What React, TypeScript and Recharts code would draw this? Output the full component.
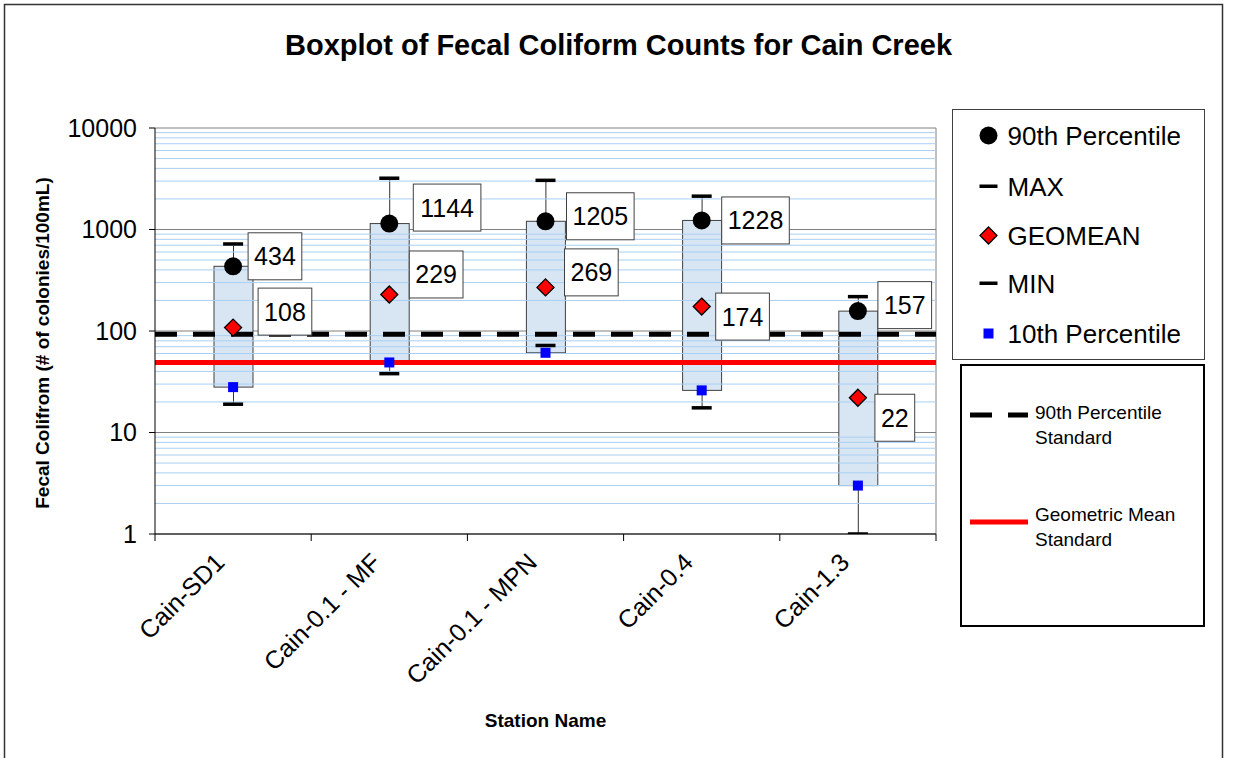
import React from "react";
import {
  ComposedChart,
  Bar,
  Scatter,
  XAxis,
  YAxis,
  CartesianGrid,
  ReferenceLine,
} from "recharts";

// stations along Cain Creek
const categories = ["Cain-SD1", "Cain-0.1 - MF", "Cain-0.1 - MPN", "Cain-0.4", "Cain-1.3"];
const maxCounts = [720, 3200, 3050, 2130, 218];
const p90Counts = [434, 1144, 1205, 1228, 157];
const geoMeans = [108, 229, 269, 174, 22];
const p10Counts = [28, 49, 61, 26, 3];
const minCounts = [19, 38, 72, 17.5, 1];

// water quality standards
const p90Standard = 93;
const geoStandard = 49;

const yTicks = [1, 10, 100, 1000, 10000];
const minorSteps = [2, 3, 4, 5, 6, 7, 8, 9];

// nudges for the value boxes (px, from the marker)
const p90LabelShift = [[15, -10], [24, -16], [21, -5], [20, 0], [20, -6]];
const geoLabelShift = [[25, -16], [20, -20], [19, -15], [14, 10], [17, 20]];

const FONT = "'Liberation Sans', Arial, sans-serif";

const chartData = categories.map((name, i) => ({
  name,
  box: [p10Counts[i], p90Counts[i]],
  whisker: [minCounts[i], maxCounts[i]],
  max: maxCounts[i],
  min: minCounts[i],
  p90: p90Counts[i],
  geo: geoMeans[i],
  p10: p10Counts[i],
}));

// light blue minor grid: 2..9 inside every decade
const minorLines = yTicks.slice(0, -1).flatMap((d) => minorSteps.map((s) => s * d));

const WhiskerShape = (p: any) => {
  const cx = p.x + p.width / 2;
  return <line x1={cx} y1={p.y} x2={cx} y2={p.y + p.height} stroke="#333" strokeWidth={1} />;
};

const BoxShape = (p: any) => (
  <rect x={p.x} y={p.y} width={p.width} height={p.height} fill="#d8e6f4" stroke="#404040" strokeWidth={1} />
);

const CapShape = (p: any) => <rect x={p.cx - 10} y={p.cy - 1.75} width={20} height={3.5} fill="#000" />;
const CircleShape = (p: any) => <circle cx={p.cx} cy={p.cy} r={9} fill="#000" />;
const DiamondShape = (p: any) => {
  const s = 8.5;
  return (
    <polygon
      points={`${p.cx},${p.cy - s} ${p.cx + s},${p.cy} ${p.cx},${p.cy + s} ${p.cx - s},${p.cy}`}
      fill="#ff0000"
      stroke="#000"
      strokeWidth={1.3}
    />
  );
};
const SquareShape = (p: any) => <rect x={p.cx - 5} y={p.cy - 5} width={10} height={10} fill="#0000ff" />;

const valueBox = (key: "p90" | "geo", shifts: number[][]) => (p: any) => {
  const i = categories.indexOf(p.payload.name);
  const txt = String(p.payload[key]);
  const w = txt.length * 13.9 + 12;
  const h = 47;
  const x = p.cx + shifts[i][0];
  const yc = p.cy + shifts[i][1];
  return (
    <g>
      <rect x={x} y={yc - h / 2} width={w} height={h} fill="#fff" stroke="#404040" strokeWidth={1} />
      <text x={x + w / 2} y={yc} textAnchor="middle" dominantBaseline="central" fontSize={25} fontFamily={FONT} fill="#000">
        {txt}
      </text>
    </g>
  );
};

const StationTick = (p: any) => {
  const band = p.width / p.visibleTicksCount;
  const left = p.x - band / 2;
  return (
    <g>
      <line x1={left} y1={p.y} x2={left} y2={p.y + 7} stroke="#000" />
      {p.index === p.visibleTicksCount - 1 && (
        <line x1={p.x + band / 2} y1={p.y} x2={p.x + band / 2} y2={p.y + 7} stroke="#000" />
      )}
      <text
        x={p.x - 7}
        y={p.y + 30}
        transform={`rotate(-45 ${p.x - 7} ${p.y + 30})`}
        textAnchor="end"
        fontSize={25}
        fontFamily={FONT}
        fill="#000"
      >
        {p.payload.value}
      </text>
    </g>
  );
};

const YTitle = (p: any) => {
  const vb = p.viewBox;
  const x = vb.x + 38;
  const y = 343;
  return (
    <text x={x} y={y} transform={`rotate(-90 ${x} ${y})`} textAnchor="middle" dominantBaseline="central" fontSize={19} fontWeight="bold" fontFamily={FONT} fill="#000">
      Fecal Colifrom (# of colonies/100mL)
    </text>
  );
};

const Legends = () => (
  <svg width={1233} height={758} style={{ position: "absolute", left: 0, top: 0, pointerEvents: "none" }}>
    <rect x={4.5} y={4.5} width={1218} height={770} fill="none" stroke="#333" strokeWidth={1.5} />
    <text x={618.5} y={55} textAnchor="middle" fontSize={29} fontWeight="bold" fontFamily={FONT} fill="#000">
      Boxplot of Fecal Coliform Counts for Cain Creek
    </text>
    <g transform="translate(952.5,109.5)" fontFamily={FONT} fontSize={26} fill="#000">
      <rect x={0} y={0} width={252} height={250} fill="#fff" stroke="#404040" strokeWidth={1} />
      <circle cx={36} cy={26} r={9} fill="#000" />
      <text x={55} y={26} dominantBaseline="central">90th Percentile</text>
      <rect x={27} y={75} width={18} height={3.5} fill="#000" />
      <text x={55} y={77} dominantBaseline="central">MAX</text>
      <polygon points="36,117.5 44.5,126 36,134.5 27.5,126" fill="#ff0000" stroke="#000" strokeWidth={1.3} />
      <text x={55} y={126} dominantBaseline="central">GEOMEAN</text>
      <rect x={27} y={172} width={18} height={3.5} fill="#000" />
      <text x={55} y={174} dominantBaseline="central">MIN</text>
      <rect x={31} y={219} width={10} height={10} fill="#0000ff" />
      <text x={55} y={224} dominantBaseline="central">10th Percentile</text>
    </g>
    <g transform="translate(961,365)" fontFamily={FONT} fontSize={19} fill="#000">
      <rect x={0} y={0} width={243} height={261} fill="#fff" stroke="#000" strokeWidth={2} />
      <line x1={9} y1={50} x2={67} y2={50} stroke="#000" strokeWidth={5} strokeDasharray="22 16" />
      <text x={74} y={47} dominantBaseline="central">90th Percentile</text>
      <text x={74} y={72} dominantBaseline="central">Standard</text>
      <line x1={9} y1={157} x2={67} y2={157} stroke="#ff0000" strokeWidth={5} />
      <text x={74} y={149} dominantBaseline="central">Geometric Mean</text>
      <text x={74} y={174} dominantBaseline="central">Standard</text>
    </g>
  </svg>
);

export default function App() {
  return (
    <div style={{ position: "absolute", left: 0, top: 0, width: 1233, height: 758, background: "#fff", fontFamily: FONT }}>
      <ComposedChart
        width={1233}
        height={758}
        data={chartData}
        margin={{ top: 128, right: 297, left: 4, bottom: 24 }}
      >
        <CartesianGrid
          horizontal={true}
          vertical={true}
          stroke="#808080"
          strokeWidth={1}
          verticalCoordinatesGenerator={({ offset }: any) => [offset.left + offset.width]}
        />
        <XAxis
          dataKey="name"
          height={200}
          tickLine={false}
          tickSize={0}
          tickMargin={0}
          axisLine={{ stroke: "#000" }}
          tick={<StationTick />}
          interval={0}
          label={{ value: "Station Name", position: "insideBottom", offset: 7, fontSize: 19, fontWeight: "bold", fill: "#000", fontFamily: FONT }}
        />
        <XAxis xAxisId="w" dataKey="name" hide />
        <YAxis
          scale="log"
          domain={[1, 10000]}
          ticks={yTicks}
          allowDataOverflow
          width={151}
          tickSize={6}
          tickMargin={12}
          axisLine={{ stroke: "#000" }}
          tickLine={{ stroke: "#000" }}
          tick={{ fontSize: 25, fill: "#000", fontFamily: FONT }}
          label={<YTitle />}
        />
        {minorLines.map((v) => (
          <ReferenceLine key={v} y={v} stroke="#a9cff2" strokeWidth={1} />
        ))}
        <Bar xAxisId="w" dataKey="whisker" barSize={39} shape={<WhiskerShape />} isAnimationActive={false} />
        <Bar dataKey="box" barSize={39} shape={<BoxShape />} isAnimationActive={false} />
        <ReferenceLine y={p90Standard} stroke="#000" strokeWidth={5} strokeDasharray="22 16" />
        <ReferenceLine y={geoStandard} stroke="#ff0000" strokeWidth={5} />
        <Scatter dataKey="max" shape={CapShape} isAnimationActive={false} />
        <Scatter dataKey="min" shape={CapShape} isAnimationActive={false} />
        <Scatter dataKey="p10" shape={SquareShape} isAnimationActive={false} />
        <Scatter dataKey="geo" shape={DiamondShape} isAnimationActive={false} />
        <Scatter dataKey="p90" shape={CircleShape} isAnimationActive={false} />
        <Scatter dataKey="p90" shape={valueBox("p90", p90LabelShift)} isAnimationActive={false} />
        <Scatter dataKey="geo" shape={valueBox("geo", geoLabelShift)} isAnimationActive={false} />
      </ComposedChart>
      <Legends />
    </div>
  );
}
